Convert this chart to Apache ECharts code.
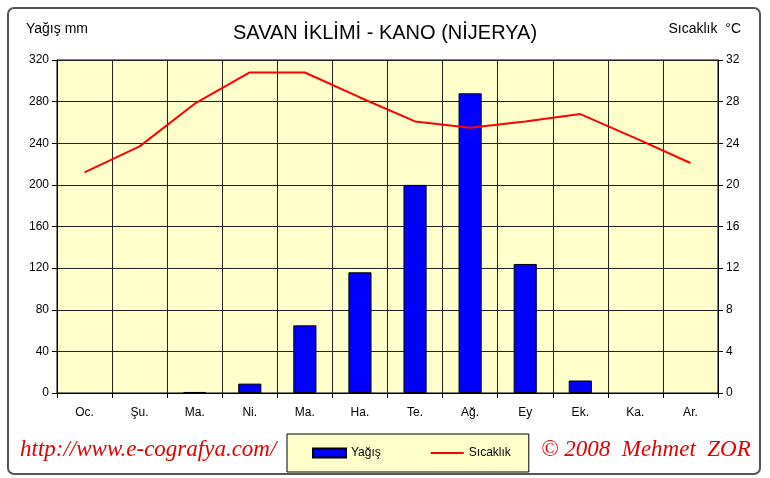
<!DOCTYPE html>
<html>
<head>
<meta charset="utf-8">
<script src="https://cdn.jsdelivr.net/npm/echarts@6/dist/echarts.min.js"></script>
<style>
html, body { margin: 0; padding: 0; background: #fff; }
#chart { width: 770px; height: 478px; }
</style>
</head>
<body>
<div id="chart"></div>
<script>
// aylar ve iklim verileri (Kano)
var months = ['Oc.', 'Şu.', 'Ma.', 'Ni.', 'Ma.', 'Ha.', 'Te.', 'Ağ.', 'Ey', 'Ek.', 'Ka.', 'Ar.'];
var yagis = [0, 0, 1, 9, 65, 116, 200, 288, 124, 12, 0, 0];
var sicaklik = [21.2, 23.7, 27.8, 30.8, 30.8, 28.4, 26.1, 25.5, 26.1, 26.8, 24.5, 22.1];

var myChart = echarts.init(document.getElementById('chart'));
var font = 'Liberation Sans, Arial, sans-serif';

var option = {
    animation: false,
    title: {
        text: 'SAVAN İKLİMİ - KANO (NİJERYA)',
        left: 'center',
        top: 18,
        textStyle: { fontFamily: font, fontSize: 20, fontWeight: 'normal', color: '#000' }
    },
    legend: {
        left: 287,
        top: 434,
        padding: [13, 18, 13, 25],
        itemWidth: 33,
        itemHeight: 9,
        itemGap: 50,
        backgroundColor: '#FFFFCC',
        borderColor: '#000',
        borderWidth: 1,
        textStyle: { fontFamily: font, fontSize: 12, color: '#000' },
        data: [
            { name: 'Yağış', icon: 'rect' },
            { name: 'Sıcaklık', icon: 'path://M0,0H33V2H0Z', itemStyle: { color: '#FF0000', borderWidth: 0 } }
        ]
    },
    grid: {
        left: 57,
        right: 52,
        top: 60,
        bottom: 85,
        show: true,
        backgroundColor: '#FFFFCC',
        borderColor: '#000',
        borderWidth: 1
    },
    xAxis: {
        type: 'category',
        data: months,
        boundaryGap: true,
        axisLine: { lineStyle: { color: '#000', width: 1 } },
        axisTick: { show: true, length: 5, lineStyle: { color: '#000' } },
        splitLine: { show: true, lineStyle: { color: '#222', width: 1 } },
        axisLabel: { fontFamily: font, fontSize: 12, color: '#000', margin: 14 }
    },
    yAxis: [
        {
            type: 'value',
            min: 0,
            max: 320,
            interval: 40,
            axisLine: { show: true, lineStyle: { color: '#000' } },
            axisTick: { show: true, length: 5, lineStyle: { color: '#000' } },
            splitLine: { show: true, lineStyle: { color: '#222', width: 1 } },
            axisLabel: { fontFamily: font, fontSize: 12, color: '#000', margin: 8 }
        },
        {
            type: 'value',
            min: 0,
            max: 32,
            interval: 4,
            position: 'right',
            axisLine: { show: true, lineStyle: { color: '#000' } },
            axisTick: { show: true, length: 5, lineStyle: { color: '#000' } },
            splitLine: { show: false },
            axisLabel: { fontFamily: font, fontSize: 12, color: '#000', margin: 8 }
        }
    ],
    series: [
        {
            name: 'Yağış',
            type: 'bar',
            // sıfır yağışlı aylar çizilmez
            data: yagis.map(function (v) { return v === 0 ? null : v; }),
            barWidth: '42%',
            itemStyle: { color: '#0000FF', borderColor: '#000', borderWidth: 1 }
        },
        {
            name: 'Sıcaklık',
            type: 'line',
            yAxisIndex: 1,
            data: sicaklik,
            symbol: 'none',
            lineStyle: { color: '#FF0000', width: 2 },
            itemStyle: { color: '#FF0000' }
        }
    ],
    graphic: [
        {
            type: 'rect',
            shape: { x: 8, y: 8, width: 752, height: 466, r: 6 },
            style: { fill: 'none', stroke: '#555', lineWidth: 2 },
            z: -1
        },
        {
            type: 'text', left: 26, top: 22,
            style: { text: 'Yağış mm', font: '14px ' + font, fill: '#000' }
        },
        {
            type: 'text', right: 29, top: 22,
            style: { text: 'Sıcaklık  °C', font: '14px ' + font, fill: '#000' }
        },
        {
            type: 'text', left: 20, top: 438,
            style: { text: 'http://www.e-cografya.com/', font: 'italic 23px Liberation Serif, serif', fill: '#E00000' }
        },
        {
            type: 'text', left: 541, top: 438,
            style: { text: '© 2008  Mehmet  ZOR', font: 'italic 23px Liberation Serif, serif', fill: '#E00000' }
        }
    ]
};
myChart.setOption(option);
</script>
</body>
</html>
